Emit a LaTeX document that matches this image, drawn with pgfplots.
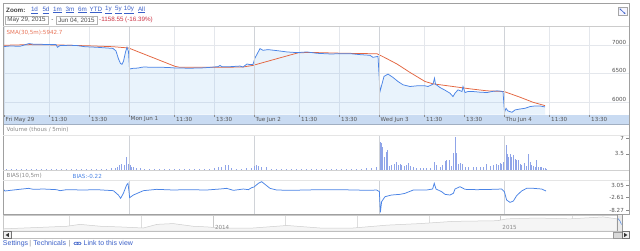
\documentclass[border=0pt]{standalone}
\usepackage{fontspec}
\setmainfont{Liberation Sans}
\newfontfamily\dv{DejaVu Sans}
\usepackage{pgfplots}
\pgfplotsset{compat=1.18}
\usetikzlibrary{arrows.meta}
\definecolor{pline}{HTML}{4A84E6}
\definecolor{pfill}{HTML}{50A3EE}
\definecolor{sma}{HTML}{E3653F}
\definecolor{smat}{HTML}{E8755A}
\definecolor{band}{HTML}{C9DBF2}
\definecolor{gridc}{HTML}{E4E7EC}
\definecolor{dayg}{HTML}{D0D3D8}
\definecolor{lbl}{HTML}{555555}
\definecolor{lblg}{HTML}{8A8A8A}
\definecolor{volc}{HTML}{8FA4E8}
\definecolor{linkc}{HTML}{3A5FC8}
\definecolor{framec}{HTML}{A0A0A0}
\definecolor{redt}{HTML}{CC3344}
\definecolor{navc}{HTML}{C8C8C8}
\newcommand\cf{\dv\fontsize{5.6}{6.4}\selectfont}
\newcommand\hf{\fontsize{6.3}{7.2}\selectfont}
\newcommand\lkf{\fontsize{7}{8}\selectfont}

\pgfplotstableread{
x v
0 6977
0.048 6988
0.128 6982
0.184 7020
0.2 7030
0.232 7020
0.328 7015
0.416 7012
0.428 6965
0.448 6995
0.528 7000
0.584 6995
0.648 6975
0.744 6965
0.808 6955
0.872 6945
0.896 6900
0.916 6760
0.932 6680
0.944 6665
0.956 6720
0.972 6880
0.984 6965
0.996 6890
1.004 6583
1.032 6595
1.072 6600
1.104 6615
1.128 6620
1.168 6612
1.248 6615
1.328 6608
1.376 6600
1.488 6598
1.568 6600
1.648 6612
1.712 6625
1.728 6645
1.744 6625
1.808 6624
1.888 6635
1.912 6618
1.944 6671
1.968 6660
1.992 6665
2.008 6777
2.048 6942
2.072 6912
2.112 6924
2.184 6906
2.264 6883
2.344 6871
2.424 6883
2.504 6859
2.608 6848
2.768 6853
2.848 6836
2.928 6824
2.952 6788
2.992 6806
3.008 6188
3.04 6453
3.072 6494
3.112 6435
3.152 6364
3.192 6306
3.248 6276
3.304 6288
3.368 6288
3.392 6276
3.432 6317
3.444 6423
3.452 6317
3.488 6258
3.528 6211
3.568 6158
3.592 6099
3.608 6158
3.632 6217
3.664 6188
3.672 6276
3.688 6170
3.712 6188
3.752 6188
3.808 6176
3.864 6170
3.904 6188
3.944 6200
3.992 6188
4.004 5823
4.016 5893
4.032 5846
4.064 5823
4.088 5864
4.128 5881
4.168 5893
4.208 5923
4.248 5934
4.288 5934
4.328 5917
}\pricetab

\pgfplotstableread{
x v
0 7000
0.208 7012
0.448 7005
0.688 6990
0.872 6975
0.928 6965
0.996 6953
1.368 6630
1.408 6612
1.648 6612
1.912 6618
1.992 6647
2.184 6765
2.352 6867
2.448 6875
2.712 6860
2.984 6851
3.032 6800
3.144 6671
3.248 6523
3.368 6364
3.432 6323
3.592 6276
3.728 6235
3.864 6200
4.0 6188
4.128 6088
4.232 5999
4.328 5940
}\smatab

\pgfplotstableread{
x v
0.02 0.12
0.06 0.15
0.10 0.10
0.14 0.15
0.18 0.12
0.22 0.10
0.26 0.15
0.30 0.12
0.34 0.10
0.38 0.15
0.42 0.12
0.46 0.10
0.50 0.15
0.54 0.12
0.58 0.15
0.62 0.12
0.66 0.15
0.70 0.20
0.74 0.15
0.78 0.20
0.82 0.15
0.86 0.25
0.888 0.3
0.904 0.45
0.92 1.1
0.942 1.3
0.96 1.0
0.982 2.8
0.994 1.3
1.008 1.1
1.022 0.6
1.034 0.45
1.062 0.3
1.088 0.3
1.12 0.15
1.16 0.12
1.20 0.15
1.24 0.10
1.28 0.12
1.32 0.15
1.36 0.12
1.40 0.10
1.44 0.15
1.48 0.12
1.52 0.10
1.56 0.15
1.60 0.12
1.64 0.20
1.68 0.25
1.712 0.6
1.742 0.45
1.768 0.9
1.794 1.0
1.82 0.25
1.86 0.15
1.90 0.20
1.94 0.25
1.98 0.30
2.0 0.74
2.016 0.96
2.034 0.74
2.062 0.6
2.102 0.45
2.14 0.20
2.18 0.15
2.22 0.12
2.26 0.15
2.30 0.10
2.34 0.12
2.38 0.15
2.42 0.12
2.46 0.10
2.50 0.15
2.54 0.12
2.58 0.10
2.62 0.15
2.66 0.12
2.70 0.15
2.74 0.12
2.78 0.15
2.82 0.20
2.86 0.15
2.90 0.25
2.94 0.30
2.98 0.45
3.008 6.15
3.018 5.8
3.030 5.0
3.04 2.8
3.056 3.9
3.066 4.4
3.082 0.74
3.102 0.96
3.12 1.3
3.136 1.7
3.154 0.96
3.168 1.3
3.182 1.1
3.2 0.74
3.216 0.96
3.234 1.5
3.254 0.74
3.274 0.45
3.302 0.3
3.328 0.3
3.354 0.3
3.382 0.3
3.408 0.3
3.442 1.7
3.462 0.96
3.488 0.6
3.51 0.96
3.528 1.9
3.542 2.1
3.562 2.2
3.582 0.74
3.594 3.6
3.608 7.3
3.622 3.7
3.634 1.3
3.648 1.5
3.67 1.3
3.688 0.6
3.714 0.45
3.754 0.45
3.782 0.6
3.808 0.45
3.834 0.6
3.862 1.3
3.888 0.74
3.914 0.96
3.936 1.3
3.954 0.96
3.968 1.5
3.982 1.3
3.994 1.7
4.016 5.4
4.026 3.4
4.038 2.8
4.048 3.4
4.062 2.8
4.074 3.2
4.088 2.4
4.102 2.1
4.114 2.2
4.128 1.2
4.142 0.96
4.16 1.5
4.182 0.74
4.194 3.4
4.208 1.7
4.222 0.96
4.234 0.74
4.248 0.6
4.262 2.1
4.274 0.45
4.288 0.6
4.302 0.45
4.314 0.37
4.328 0.3
4.342 0.2
}\voltab

\pgfplotstableread{
x v
0 0.90
0.008 0.44
0.075 0.90
0.195 1.66
0.235 1.20
0.315 1.35
0.421 1.05
0.448 0.59
0.501 1.05
0.635 0.90
0.741 1.05
0.875 0.59
0.915 -1.40
0.933 -2.92
0.955 -0.63
0.981 3.19
0.992 3.95
1.0 0.13
1.005 -2.62
1.035 -1.40
1.115 0.59
1.221 1.20
1.355 0.90
1.461 1.05
1.621 0.90
1.728 1.35
1.781 1.66
1.835 0.74
1.915 1.35
1.955 1.05
1.981 1.96
2.0 2.27
2.035 3.95
2.061 4.71
2.088 3.49
2.128 1.66
2.181 0.90
2.288 0.74
2.528 1.05
2.688 1.05
2.795 0.90
2.928 0.74
2.981 0.90
3.003 0.13
3.011 -9.34
3.021 -4.45
3.048 -2.16
3.101 -1.40
3.168 -1.09
3.208 -0.63
3.275 0.90
3.381 0.90
3.429 1.35
3.442 3.95
3.456 1.35
3.501 0.13
3.528 -1.09
3.568 -1.40
3.595 -0.63
3.608 1.35
3.648 2.42
3.688 1.20
3.781 1.05
3.915 1.20
3.981 1.35
4.003 0.13
4.021 -3.69
4.048 -4.76
4.075 -4.15
4.101 -1.70
4.141 0.44
4.181 1.66
4.235 1.66
4.301 1.35
4.336 0.44
}\biastab

\pgfplotstableread{
x v
0.000 3714
0.109 4100
0.221 4535
0.266 5143
0.336 4535
0.409 4300
0.486 3964
0.534 5143
0.590 5393
0.659 4535
0.708 4321
0.753 3964
0.868 3964
0.986 4785
1.101 3964
1.216 3964
1.334 4892
1.449 5393
1.564 6107
1.717 6321
1.752 6928
1.856 7178
1.971 6928
2.086 7535
2.134 6928
}\navtab

\begin{document}
\begin{tikzpicture}
\path[use as bounding box, fill=white] (0,0) rectangle (640bp,-251bp);
\begin{scope}[x=1bp,y=-1bp]
\fill[band] (3.5,114.5) rectangle (629,124.5);
\draw[line width=0.4bp, color=band!80!black] (3.5,124.5) -- (629,124.5);
\end{scope}

% ---------- price panel ----------
\begin{axis}[
  at={(4bp,-26.5bp)}, anchor=north west,
  scale only axis, width=625bp, height=88bp,
  xmin=0, xmax=5, ymin=5784, ymax=7330,
  axis line style={draw=none},
  xtick={0,0.364,0.684,1,1.364,1.684,2,2.364,2.684,3,3.364,3.684,4,4.364,4.684},
  xticklabels={Fri May 29,11:30,13:30,Mon Jun 1,11:30,13:30,Tue Jun 2,11:30,13:30,Wed Jun 3,11:30,13:30,Thu Jun 4,11:30,13:30},
  xtick pos=bottom,
  tick align=outside, major tick length=2bp,
  xtick style={draw=lblg, line width=0.4bp},
  xticklabel style={anchor=west, xshift=1.5bp, yshift=-3bp, inner sep=0pt, font=\cf, text=lbl},
  ytick={6000,6500,7000}, yticklabels={6000,6500,7000},
  ytick pos=right, yticklabel pos=right,
  ytick style={draw=none},
  yticklabel style={anchor=south east, xshift=-4bp, inner sep=0.6bp, font=\cf, text=lbl},
  xmajorgrids, ymajorgrids,
  major grid style={draw=gridc, line width=0.5bp},
]
\addplot[draw=none, fill=pfill, fill opacity=0.12] table[x=x,y=v]{\pricetab} \closedcycle;
\addplot[sma, line width=0.75bp, mark=none] table[x=x,y=v]{\smatab};
\addplot[pline, line width=0.75bp, mark=none] table[x=x,y=v]{\pricetab};
\end{axis}

% ---------- volume panel ----------
\begin{axis}[
  at={(4bp,-135bp)}, anchor=north west,
  scale only axis, width=625bp, height=34.5bp,
  xmin=0, xmax=5, ymin=0, ymax=7.667,
  axis line style={draw=none},
  xtick={1,2,3,4}, xticklabels={}, xtick style={draw=none},
  xmajorgrids, major grid style={draw=dayg, line width=0.5bp},
  ytick={3.5,7}, yticklabels={3.5,7},
  ytick pos=right, yticklabel pos=right,
  tick align=inside, major tick length=3bp,
  ytick style={draw=lblg, line width=0.4bp},
  yticklabel style={anchor=east, xshift=-5bp, inner sep=0pt, font=\cf, text=lbl},
]
\addplot[ycomb, volc, line width=0.7bp, mark=none] table[x=x,y=v]{\voltab};
\end{axis}

% ---------- bias panel ----------
\begin{axis}[
  at={(4bp,-180bp)}, anchor=north west,
  scale only axis, width=625bp, height=33.5bp,
  xmin=0, xmax=5, ymin=-9.87, ymax=5.48,
  axis line style={draw=none},
  xtick={1,2,3,4}, xticklabels={}, xtick style={draw=none},
  xmajorgrids, major grid style={draw=dayg, line width=0.5bp},
  ytick={-8.27,-2.61,3.05}, yticklabels={-8.27,-2.61,3.05},
  ytick pos=right, yticklabel pos=right,
  tick align=inside, major tick length=3bp,
  ytick style={draw=lblg, line width=0.4bp},
  yticklabel style={anchor=east, xshift=-5bp, inner sep=0pt, font=\cf, text=lbl},
]
\addplot[pline, line width=0.75bp, mark=none] table[x=x,y=v]{\biastab};
\end{axis}

% ---------- navigator (x: years since 2013.271) ----------
\begin{axis}[
  at={(3.5bp,-215.5bp)}, anchor=north west,
  scale only axis, width=613.5bp, height=15.5bp,
  xmin=0, xmax=2.134, ymin=3000, ymax=8000,
  axis line style={draw=navc, line width=0.5bp},
  xtick={0.729,1.729}, xticklabels={},
  minor xtick={0.229,0.479,0.979,1.229,1.479,1.979},
  major tick length=0pt, minor tick length=0pt,
  ytick=\empty,
  xmajorgrids, xminorgrids,
  major grid style={draw=navc, line width=0.5bp},
  minor grid style={draw=navc!60, line width=0.4bp},
]
\addplot[draw=navc!90, line width=0.5bp, fill=black!4, mark=none] table[x=x,y=v]{\navtab} \closedcycle;
\node[anchor=south west, inner sep=0pt, font=\cf, text=lblg] at (axis cs:0.735,3300) {2014};
\node[anchor=south west, inner sep=0pt, font=\cf, text=lblg] at (axis cs:1.735,3300) {2015};
\end{axis}

\begin{scope}[x=1bp,y=-1bp]
% frame
\draw[framec, line width=0.6bp] (3.5,3.5) rectangle (629,214);
\draw[black!20, line width=0.5bp] (3.5,26.5) -- (629,26.5);
\draw[black!10, line width=0.4bp] (3.5,135) -- (629,135);
\draw[black!18, line width=0.5bp] (3.5,170.5) -- (629,170.5);
\draw[black!10, line width=0.4bp] (3.5,180) -- (629,180);
\foreach \d in {129,254,379,504} {
  \draw[dayg, line width=0.6bp] (\d,26.5) -- (\d,114.5);
}
% header
\node[anchor=west, inner sep=0, font=\hf\bfseries, text=black!75] at (6,10) {Zoom:};
\foreach \t/\p in {1d/34.5,5d/46,1m/57.5,3m/70,6m/82.5,YTD/96,1y/108.5,5y/118.5,10y/129,All/141.5}
  \node[inner sep=0, font=\hf, text=linkc] at (\p,10) {\underline{\t}};
\draw[black!30, line width=0.4bp] (5,16) rectangle (48,24.5);
\node[inner sep=0, font=\hf, text=black!70] at (26.5,20.3) {May 29, 2015};
\node[inner sep=0, font=\hf, text=black!70] at (52.3,20.3) {-};
\draw[black!30, line width=0.4bp] (56,16) rectangle (97,24.5);
\node[inner sep=0, font=\hf, text=black!70] at (76.5,20.3) {Jun 04, 2015};
\node[anchor=west, inner sep=0, font=\hf, text=redt] at (99,20.3) {-1158.55 (-16.39\%)};
\draw[black!35, fill=blue!4, line width=0.4bp] (618,7) rectangle (627,15.5);
\draw[linkc, line width=0.6bp, {Stealth[length=1.6bp,width=1.8bp]}-{Stealth[length=1.6bp,width=1.8bp]}] (619.6,8.6) -- (625.4,13.9);
% panel labels
\node[anchor=west, inner sep=0, font=\cf, text=smat] at (6.5,32.5) {SMA(30,5m):5942.7};
\node[anchor=west, inner sep=0, font=\cf, text=lblg] at (6.5,130) {Volume (thous / 5min)};
\node[anchor=west, inner sep=0, font=\cf, text=lblg] at (6.5,176) {BIAS(10,5m)};
\node[anchor=west, inner sep=0, font=\cf, text=pline] at (72.5,176) {BIAS:-0.22};
% navigator handle and scrollbar
\fill[black!8] (617.5,214) rectangle (622,231);
\draw[black!40, line width=0.4bp] (617.5,214) rectangle (622,231);
\draw[pline, line width=0.5bp] (618,218.5) -- (620,221) -- (621.5,224.5);
\draw[black!25, line width=0.4bp] (3.5,231.5) rectangle (629,238.5);
\draw[black!55, fill=black!6, line width=0.4bp] (3.5,231.5) rectangle (11,238.5);
\fill[black!80] (8.8,233) -- (5.6,235) -- (8.8,237) -- cycle;
\draw[black!40, fill=black!15, line width=0.4bp] (613,232) rectangle (622,238.5);
\draw[black!55, fill=black!6, line width=0.4bp] (622,231.5) rectangle (629,238.5);
\fill[black!80] (624.2,233) -- (627.4,235) -- (624.2,237) -- cycle;
% bottom links
\node[anchor=west, inner sep=0, font=\lkf, text=linkc] at (2.8,243.5) {Settings};
\node[anchor=west, inner sep=0, font=\lkf, text=black!45] at (29.3,243.5) {|};
\node[anchor=west, inner sep=0, font=\lkf, text=linkc] at (33.3,243.5) {Technicals};
\node[anchor=west, inner sep=0, font=\lkf, text=black!45] at (68.8,243.5) {|};
\draw[linkc, line width=0.6bp, rounded corners=1bp] (74,242.2) rectangle (78.2,244.6);
\draw[linkc, line width=0.6bp, rounded corners=1bp] (76.8,242.2) rectangle (81,244.6);
\node[anchor=west, inner sep=0, font=\lkf, text=linkc] at (83.5,243.5) {Link to this view};
\end{scope}
\end{tikzpicture}
\end{document}
